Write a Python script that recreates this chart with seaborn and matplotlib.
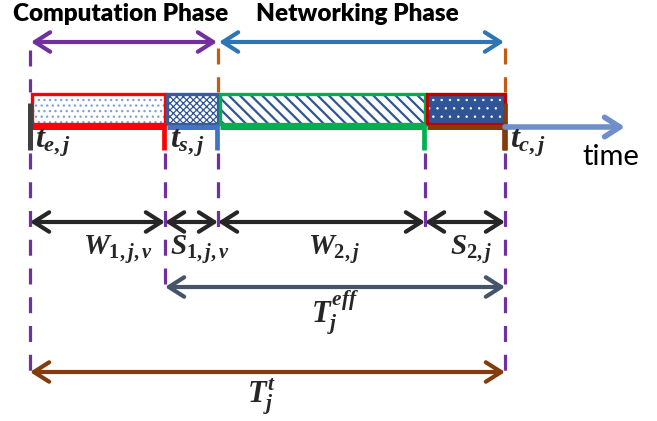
import numpy as np
import pandas as pd
import seaborn as sns
import matplotlib.pyplot as plt
from matplotlib.patches import Rectangle

# Instants sur l'axe du temps
t_e, t_s, t_n, t_w, t_c = 30, 165, 218, 425, 505

# Segments de la ligne du temps
seg_start = [t_e, t_s, t_n, t_w]
seg_end = [t_s, t_n, t_w, t_c]
seg_names = [r"$W_{1,j,v}$", r"$S_{1,j,v}$", r"$W_{2,j}$", r"$S_{2,j}$"]
seg_label_x = [118, 200, 334, 471]
seg_edge = ["#ff0000", "#3a5a98", "#00b050", "#c00000"]
seg_face = ["white", "white", "white", "#2f5597"]
seg_hatch = ["...", "xxxxx", "\\\\\\", ".."]
seg_hatch_col = ["#7f9fd8", "#2f5597", "#2f5597", "white"]
seg_hatch_lw = [0.9, 0.9, 1.6, 0.5]
under_col = ["#ff0000", "#4472c4", "#00b050", "#843c0c"]

# Phases
phase_names = ["Computation Phase", "Networking Phase"]
phase_start = [t_e, t_n]
phase_end = [t_n, t_c]
phase_col = ["#7030a0", "#2e75b6"]
phase_text_x = [121, 357]

# Instants annotés
point_names = [r"$t_{e,j}$", r"$t_{s,j}$", r"$t_{c,j}$"]
point_x = [t_e, t_s, t_c]

sns.set_theme(style="white")
plt.rcParams["font.family"] = ["Lato", "DejaVu Sans"]
plt.rcParams["mathtext.fontset"] = "custom"
plt.rcParams["mathtext.it"] = "Liberation Serif:italic:bold"
plt.rcParams["mathtext.rm"] = "Liberation Serif:bold"
plt.rcParams["mathtext.bf"] = "Liberation Serif:bold"

fig = plt.figure(figsize=(6.57, 4.21), dpi=100)
ax = fig.add_axes([0, 0, 1, 1])
ax.set_xlim(0, 657)
ax.set_ylim(421, 0)
ax.axis("off")


def arrow(x0, x1, y, col, lw=3, style="<->"):
    ax.annotate("", xy=(x1, y), xytext=(x0, y),
                arrowprops=dict(arrowstyle=f"{style},head_length=0.55,head_width=0.35",
                                color=col, lw=lw, shrinkA=0, shrinkB=0,
                                mutation_scale=20))


# Titres des phases et flèches
for name, x0, x1, col, tx in zip(phase_names, phase_start, phase_end, phase_col, phase_text_x):
    ax.text(tx, 14, name, ha="center", va="center", fontsize=17.5, fontweight="heavy", color="black")
    arrow(x0 + 1, x1 - 1, 42, col)

# Pointillés verticaux
purple = "#7030a0"
orange = "#c55a11"
dash = (0, (5, 4))
for x, y0, y1, col in [(t_e, 50, 92, purple), (t_n, 48, 92, orange), (t_c, 48, 92, orange),
                       (t_e, 153, 382, purple), (t_s, 153, 290, purple),
                       (t_n, 153, 228, purple), (t_w, 153, 228, purple), (t_c, 153, 382, purple)]:
    ax.plot([x, x], [y0, y1], color=col, lw=2.3, linestyle=dash, solid_capstyle="butt")

# Barre du temps
arrow(t_c, 625, 127, "#6f8fcb", lw=4, style="->")
ax.text(611, 157, "time", ha="center", va="center", fontsize=21, color="black")

for x0, x1, face, hatch, hcol, hlw, edge, ucol in zip(seg_start, seg_end, seg_face, seg_hatch,
                                                       seg_hatch_col, seg_hatch_lw, seg_edge, under_col):
    with plt.rc_context({"hatch.linewidth": hlw}):
        p = Rectangle((x0 + 2, 94), x1 - x0 - 2, 30, facecolor=face, hatch=hatch,
                      edgecolor=hcol, lw=0)
        if hasattr(p, "set_hatch_linewidth"):
            p.set_hatch_linewidth(hlw)
        ax.add_patch(p)
    ax.add_patch(Rectangle((x0 + 2, 94), x1 - x0 - 2, 30, facecolor="none",
                           edgecolor=edge, lw=2.4))
    ax.plot([x0 + 2, x1], [127, 127], color=ucol, lw=3.6, solid_capstyle="butt")
    ax.plot([x1 - 1, x1 - 1], [124, 150], color=ucol, lw=3.4, solid_capstyle="butt")

ax.plot([t_e, t_e], [103, 150], color="#404040", lw=3.6, solid_capstyle="butt")
ax.plot([t_c, t_c], [103, 150], color="#843c0c", lw=3.4, solid_capstyle="butt")

for name, x in zip(point_names, point_x):
    ax.text(x + 5, 143, name, ha="left", va="center", fontsize=23)

# Durées
for x0, x1, name, lx in zip(seg_start, seg_end, seg_names, seg_label_x):
    arrow(x0, x1, 222, "#262626", lw=3)
    ax.text(lx, 249, name, ha="center", va="center", fontsize=21)

arrow(t_s, t_c, 287, "#44546a", lw=3)
ax.text(335, 313, r"$T_j^{eff}$", ha="center", va="center", fontsize=22)
arrow(t_e, t_c, 372, "#843c0c", lw=3)
ax.text(262, 397, r"$T_j^t$", ha="center", va="center", fontsize=22)

plt.savefig("out.png", dpi=100)
